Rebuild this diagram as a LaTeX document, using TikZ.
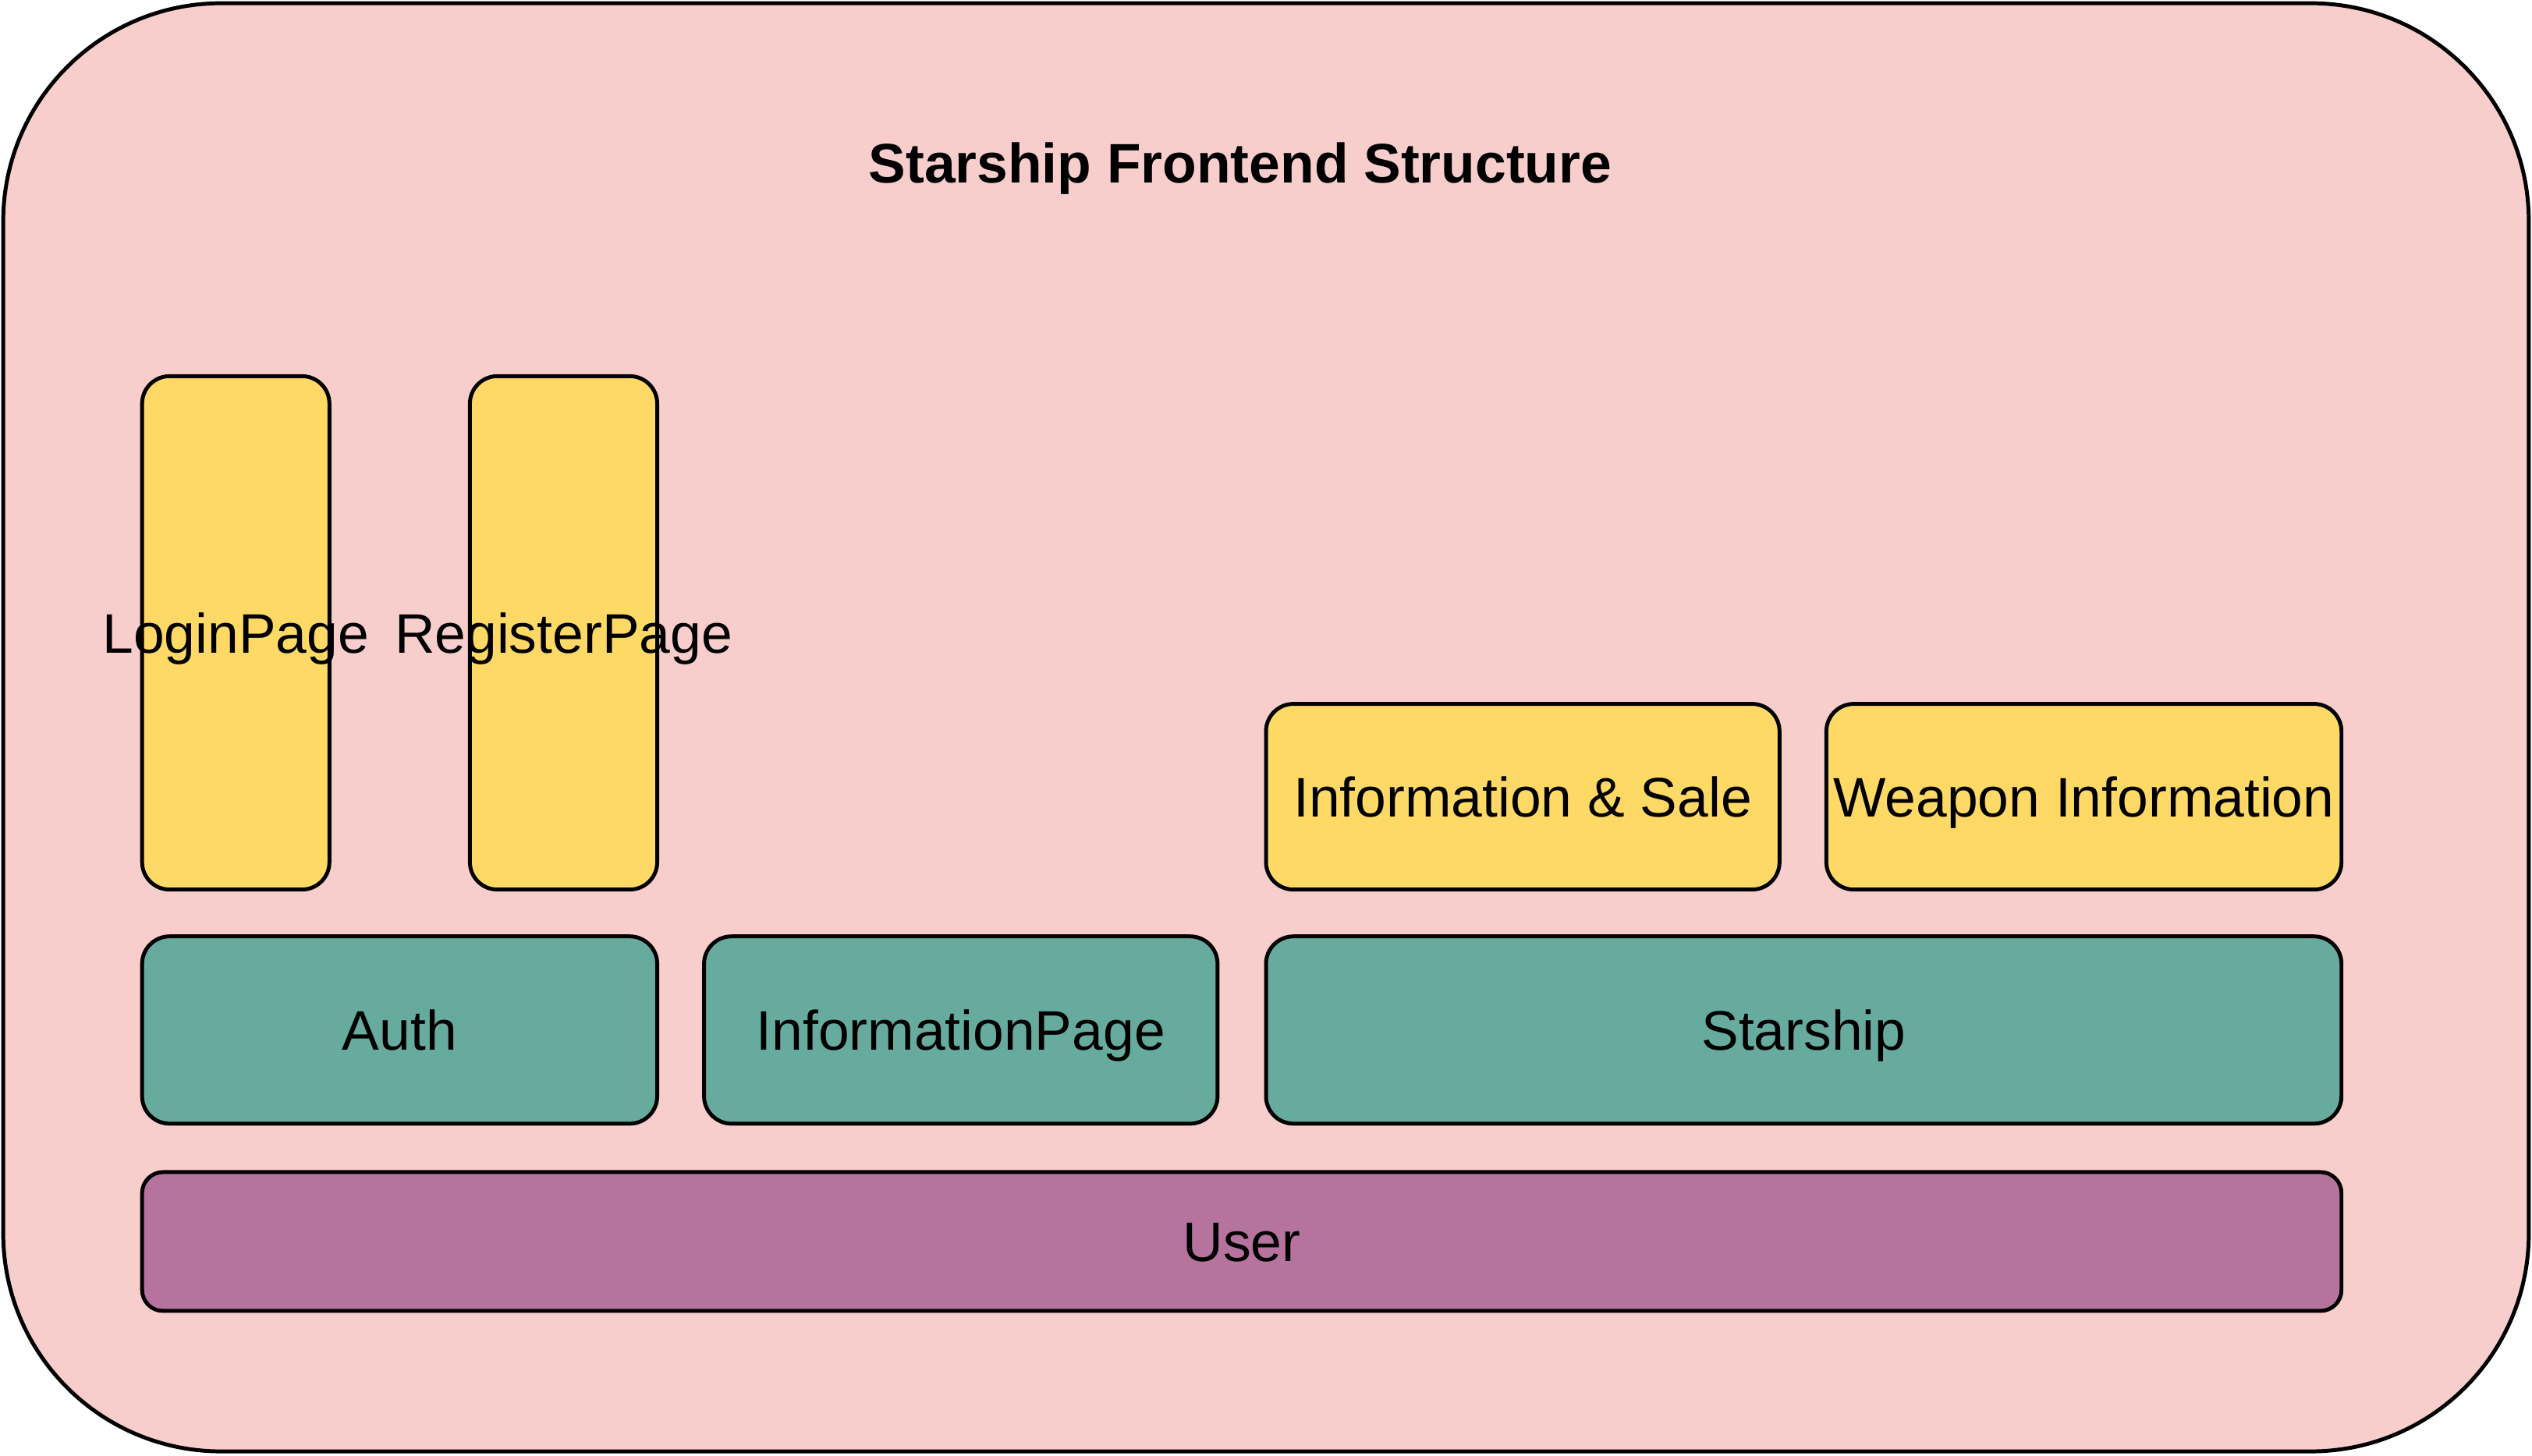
\documentclass[tikz,border=0pt]{standalone}
\usepackage{fontspec}
\setmainfont{Liberation Sans}
\definecolor{pinkbg}{HTML}{F8CECC}
\definecolor{yelbox}{HTML}{FFD966}
\definecolor{tealbox}{HTML}{67AB9F}
\definecolor{purbox}{HTML}{B5739D}
\tikzset{
  box/.style={draw=black, line width=2.4pt, rectangle, inner sep=0pt, outer sep=0pt,
    font=\fontsize{34.5}{41}\selectfont, text=black, text height=24.7pt, text depth=0pt},
  ybox/.style={box, fill=yelbox, rounded corners=17pt},
  tbox/.style={box, fill=tealbox, rounded corners=17pt},
  pbox/.style={box, fill=purbox, rounded corners=13pt},
  lbl/.style={font=\fontsize{34.5}{41}\selectfont, text=black, inner sep=0pt, text height=24.7pt, text depth=0pt},
}
\begin{document}
\begin{tikzpicture}[x=1pt,y=-1pt]
\useasboundingbox (0,0) rectangle (1568,901.4);
\node[box, fill=pinkbg, rounded corners=135pt, minimum width=1564pt, minimum height=897pt] (outer) at (784,450.5) {};
\node[lbl, font=\fontsize{34.5}{41}\selectfont\bfseries] (title) at (768,101) {Starship Frontend Structure};
\node[ybox, minimum width=116pt, minimum height=318pt] (login) at (146,392) {};
\node[lbl] (loginlbl) at (login.center) {LoginPage};
\node[ybox, minimum width=116pt, minimum height=318pt] (register) at (349,392) {};
\node[lbl] (registerlbl) at (register.center) {RegisterPage};
\node[ybox, minimum width=318pt, minimum height=115pt] (infosale) at (943,493.5) {Information \& Sale};
\node[ybox, minimum width=319pt, minimum height=115pt] (weapon) at (1290.5,493.5) {Weapon Information};
\node[tbox, minimum width=319pt, minimum height=116pt] (auth) at (247.5,638) {Auth};
\node[tbox, minimum width=318pt, minimum height=116pt] (infopage) at (595,638) {InformationPage};
\node[tbox, minimum width=666pt, minimum height=116pt] (starship) at (1117,638) {Starship};
\node[pbox, minimum width=1362pt, minimum height=86pt] (user) at (769,769) {User};
\end{tikzpicture}
\end{document}
